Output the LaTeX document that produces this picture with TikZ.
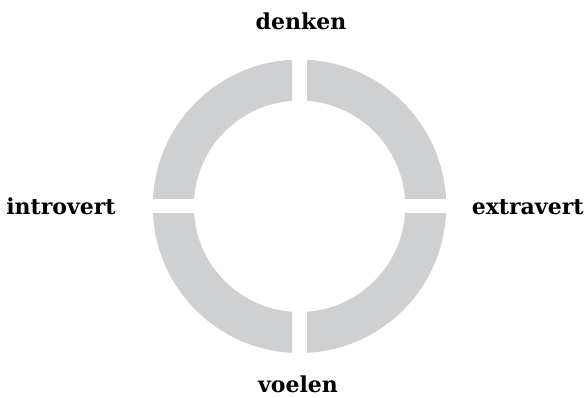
\documentclass[tikz,border=0pt]{standalone}
\usepackage{fontspec}
\setmainfont{DejaVu Serif}
\usetikzlibrary{calc}
\definecolor{ringgray}{RGB}{207,208,210}
\definecolor{seamgray}{RGB}{214,215,217}
\begin{document}
\begin{tikzpicture}[x=1pt,y=1pt,
  lbl/.style={font=\fontsize{22}{26}\selectfont\bfseries, inner sep=0pt, anchor=base}]
\useasboundingbox (0,0) rectangle (584,397);
\def\cx{299.5}\def\cy{190.7}\def\R{146.7}\def\r{105.7}\def\g{7.5}
\coordinate (c) at (\cx,\cy);
\foreach \sx/\sy in {1/1,-1/1,-1/-1,1/-1}{
  \begin{scope}
    \clip (\cx+\sx*\g,\cy+\sy*\g) rectangle (\cx+\sx*200,\cy+\sy*200);
    \fill[ringgray,even odd rule] (c) circle (\R) (c) circle (\r);
  \end{scope}
}
\foreach \a in {45,135,225,315}{
  \draw[seamgray,line width=0.6pt] ($(c)+(\a:\r)$) -- ($(c)+(\a:\R)$);
}
\node[lbl] (denken) at (301,367.7) {denken};
\node[lbl] (voelen) at (298,4.5) {voelen};
\node[lbl] (introvert) at (61,182.3) {introvert};
\node[lbl] (extravert) at (527.7,182.3) {extravert};
\end{tikzpicture}
\end{document}
